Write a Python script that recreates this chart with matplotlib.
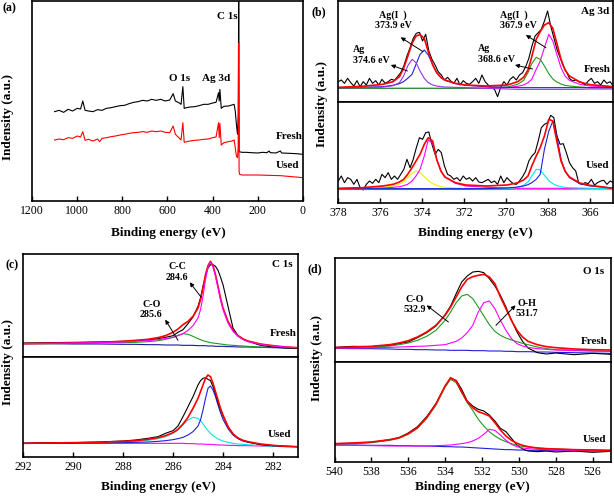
import numpy as np
import matplotlib
matplotlib.use('Agg')
import matplotlib.pyplot as plt

plt.rcParams['font.family'] = ['Liberation Serif', 'DejaVu Serif']

# ---------------- (a) survey ----------------
survey_fresh_ev = [1100, 1080, 1060, 1040, 1020, 1000, 985, 975, 965, 950,
                   930, 910, 890, 870, 850, 830, 810, 790, 770, 750,
                   730, 710, 690, 670, 650, 630, 610, 590, 575, 565,
                   550, 540, 532, 526, 515, 500, 480, 460, 440, 420,
                   400, 385, 374, 371, 368, 362, 350, 330, 315, 305,
                   300, 295, 290, 286.5, 284.6, 283, 270, 250, 230, 200,
                   180, 160, 150, 145, 120, 100, 95, 60, 30, 0]
survey_fresh = [268, 272, 266, 275, 270, 278, 276, 300, 272, 270,
                268, 274, 272, 278, 280, 283, 286, 287, 292, 296,
                298, 302, 300, 305, 302, 305, 300, 303, 322, 300,
                295, 290, 343, 278, 280, 282, 283, 286, 290, 290,
                294, 296, 325, 300, 335, 278, 284, 285, 288, 290,
                270, 230, 200, 260, 700, 148, 146, 146, 145, 144,
                146, 145, 150, 145, 144, 150, 144, 143, 142, 140]
survey_used_ev = [1100, 1080, 1060, 1040, 1020, 1000, 985, 975, 965, 950,
                  930, 910, 900, 890, 870, 850, 830, 810, 790, 770,
                  750, 730, 710, 690, 670, 650, 630, 610, 590, 575,
                  565, 550, 540, 532, 526, 515, 500, 480, 460, 440,
                  420, 400, 385, 374, 371, 368, 362, 350, 330, 315,
                  305, 300, 295, 290, 287, 285, 283, 281, 270, 200,
                  150, 100, 50, 0]
survey_used = [183, 186, 184, 190, 188, 195, 192, 208, 182, 185,
               180, 186, 178, 188, 190, 193, 195, 198, 200, 203,
               205, 206, 208, 206, 210, 208, 210, 206, 205, 225,
               200, 190, 183, 235, 176, 178, 180, 182, 183, 185,
               186, 190, 192, 235, 190, 233, 168, 175, 178, 180,
               183, 160, 135, 130, 160, 473, 90, 80, 78, 78,
               77, 76, 73, 70]

# ---------------- (b) Ag 3d ----------------
ag_ev = [377.99, 376.85, 375.87, 375.38, 375.08, 374.88, 374.69, 374.48, 374.29, 374.10,
         373.90, 373.71, 373.50, 373.31, 373.11, 372.92, 372.42, 371.93, 370.95, 369.95,
         369.46, 369.18, 368.97, 368.79, 368.58, 368.39, 368.19, 367.98, 367.79, 367.60,
         367.40, 367.21, 367.00, 366.51, 366.02, 364.93]
ag_fresh_env = [41, 44, 50, 58, 73, 98, 133, 173, 195, 199, 188, 148, 108, 85, 71, 63, 53, 48, 45, 48,
                58, 71, 93, 133, 185, 208, 228, 235, 218, 173, 125, 93, 75, 57, 49, 43]
ag_fresh_ag0_d3 = [40, 40, 42, 46, 55, 75, 105, 125, 115, 90, 68, 55, 48, 45, 43, 42, 41, 40, 38, 36,
                   35, 35, 35, 35, 35, 35, 35, 35, 35, 35, 35, 35, 35, 35, 36, 36]
ag_fresh_ag1_d3 = [40, 41, 43, 47, 52, 58, 68, 80, 110, 140, 153, 138, 110, 85, 70, 62, 52, 47, 43, 41,
                   40, 40, 40, 40, 40, 40, 40, 40, 40, 40, 40, 40, 40, 40, 40, 40]
ag_fresh_ag0_d5 = [38, 38, 38, 38, 38, 38, 38, 38, 38, 38, 38, 38, 38, 38, 38, 38, 38, 38, 39, 42,
                   50, 62, 85, 112, 131, 125, 105, 82, 66, 57, 51, 47, 45, 42, 40, 39]
ag_fresh_ag1_d5 = [38, 38, 38, 38, 38, 38, 38, 38, 38, 38, 38, 38, 38, 38, 38, 38, 38, 38, 38, 40,
                   44, 48, 55, 65, 95, 120, 160, 200, 180, 140, 100, 75, 62, 50, 45, 41]
ag_fresh_raw = [58, 63, 53, 68, 55, 45, 61, 43, 58, 48, 68, 53, 61, 48, 65, 53, 58, 65, 62, 73,
                85, 105, 135, 160, 188, 203, 206, 180, 200, 150, 125, 108, 88, 78, 63, 71, 60, 53, 68, 48,
                61, 53, 50, 58, 68, 53, 78, 58, 48, 40, 35, 13, 41, 58, 48, 65, 73, 63, 78, 85,
                103, 128, 165, 195, 205, 215, 240, 270, 225, 190, 155, 130, 105, 88, 68, 60, 63, 58, 55, 48,
                60, 68, 53, 58, 48, 63, 53, 58, 45]

ag_used_env = [43, 45, 50, 55, 62, 70, 85, 105, 125, 145, 175, 195, 185, 130, 95, 77, 60, 53, 50, 53,
               60, 68, 80, 110, 140, 165, 200, 250, 245, 185, 125, 95, 77, 59, 52, 43]
ag_used_ag0_d3 = [42, 43, 46, 50, 56, 63, 75, 88, 95, 90, 78, 66, 57, 52, 48, 46, 44, 43, 42, 42,
                  41, 41, 41, 41, 41, 41, 41, 41, 41, 41, 41, 41, 41, 40, 40, 40]
ag_used_ag1_d3 = [42, 42, 44, 46, 48, 51, 55, 65, 80, 100, 140, 188, 178, 130, 95, 77, 58, 50, 46, 44,
                  43, 43, 43, 43, 43, 43, 43, 43, 43, 43, 43, 42, 42, 42, 42, 42]
ag_used_ag0_d5 = [42, 42, 42, 42, 42, 42, 42, 42, 42, 42, 42, 42, 42, 42, 42, 42, 42, 42, 42, 42,
                  46, 52, 62, 80, 100, 98, 82, 66, 57, 51, 48, 46, 45, 44, 43, 42]
ag_used_ag1_d5 = [42, 42, 42, 42, 42, 42, 42, 42, 42, 42, 42, 42, 42, 42, 42, 42, 42, 42, 42, 44,
                  47, 50, 54, 60, 70, 85, 160, 215, 245, 200, 130, 95, 75, 57, 50, 44]
ag_used_base = [41] * 36
ag_used_raw = [65, 80, 60, 75, 70, 55, 70, 45, 38, 55, 65, 58, 70, 60, 85, 75, 90, 70, 80, 70,
               85, 100, 130, 105, 130, 165, 195, 190, 210, 212, 175, 145, 160, 150, 110, 85, 80, 70, 75, 65,
               80, 70, 75, 65, 75, 62, 60, 65, 70, 60, 65, 55, 80, 60, 75, 65, 57, 55, 65, 78,
               95, 125, 140, 150, 185, 225, 235, 240, 262, 255, 200, 175, 177, 150, 120, 105, 95, 58, 55, 60,
               57, 70, 53, 60, 65, 67, 55, 65, 60]

# ---------------- (c) C 1s ----------------
c_ev = [292.0, 291.0, 290.0, 289.0, 288.0, 287.5, 287.0, 286.6, 286.3, 286.0,
        285.8, 285.6, 285.4, 285.2, 285.0, 284.9, 284.8, 284.7, 284.6, 284.5,
        284.4, 284.3, 284.2, 284.1, 284.0, 283.8, 283.6, 283.4, 283.2, 283.0,
        282.5, 282.0, 281.5, 281.0]
c_fresh_raw = [40, 41, 42, 43, 45, 47, 49, 53, 57, 62, 72, 80, 98, 118, 150, 175, 210, 240, 265, 275,
               275, 270, 258, 238, 215, 150, 85, 62, 52, 45, 33, 28, 25, 24]
c_fresh_env = [38, 39, 40, 42, 45, 48, 51, 56, 62, 72, 82, 95, 105, 120, 145, 170, 205, 245, 272, 285,
               272, 245, 210, 175, 145, 105, 78, 62, 52, 46, 37, 32, 28, 26]
c_fresh_cc = [38, 39, 40, 41, 43, 45, 47, 50, 53, 57, 62, 68, 78, 92, 115, 140, 180, 230, 268, 283,
              268, 240, 205, 170, 140, 100, 75, 60, 50, 44, 36, 31, 28, 26]
c_fresh_co = [38, 38, 39, 40, 41, 42, 44, 47, 51, 57, 63, 68, 66, 60, 53, 50, 47, 45, 43, 41,
              40, 39, 38, 37, 36, 34, 33, 32, 31, 30, 28, 27, 26, 25]
c_fresh_base = [38, 38, 37, 37, 36, 36, 35, 35, 34, 34, 34, 33, 33, 33, 32, 32, 32, 32, 31, 31,
                31, 30, 30, 30, 30, 29, 29, 28, 28, 28, 27, 26, 25, 25]
c_used_raw = [40, 42, 42, 44, 47, 50, 55, 60, 70, 78, 92, 120, 150, 180, 215, 228, 235, 237, 232, 228,
              210, 188, 162, 140, 122, 90, 68, 55, 48, 44, 36, 33, 31, 30]
c_used_env = [40, 41, 42, 43, 46, 48, 52, 57, 63, 72, 82, 98, 118, 145, 175, 195, 215, 235, 245, 240,
              220, 195, 170, 145, 125, 90, 68, 56, 49, 45, 38, 34, 31, 30]
c_used_cc = [40, 40, 40, 41, 42, 43, 44, 46, 48, 51, 54, 58, 65, 75, 92, 110, 140, 175, 205, 212,
             200, 180, 155, 132, 112, 84, 65, 54, 47, 43, 37, 33, 31, 30]
c_used_co = [40, 40, 41, 42, 44, 46, 49, 54, 60, 70, 80, 95, 110, 118, 115, 108, 98, 88, 78, 70,
             63, 58, 53, 50, 47, 43, 40, 38, 37, 36, 33, 31, 30, 29]
c_used_base = [40, 40, 40, 40, 40, 40, 40, 40, 40, 40, 40, 40, 39, 39, 38, 38, 38, 37, 37, 37,
               36, 36, 35, 35, 35, 34, 34, 33, 33, 33, 32, 31, 31, 30]

# ---------------- (d) O 1s ----------------
o_ev = [540, 539, 538, 537, 536.5, 536, 535.5, 535, 534.5, 534,
        533.7, 533.4, 533.1, 532.8, 532.5, 532.2, 531.9, 531.6, 531.3, 531,
        530.7, 530.4, 530.1, 529.8, 529.5, 529, 528.5, 528, 527, 526, 525]
o_fresh_raw = [44, 47, 46, 50, 55, 60, 73, 88, 108, 142, 168, 205, 240, 258, 270, 272, 268, 250, 228, 200,
               165, 125, 90, 62, 42, 28, 24, 27, 22, 26, 23]
o_fresh_env = [43, 45, 47, 52, 57, 64, 75, 90, 110, 140, 165, 195, 225, 248, 256, 260, 263, 255, 235, 195,
               160, 125, 95, 75, 62, 52, 46, 43, 39, 37, 36]
o_fresh_co = [42, 43, 45, 48, 52, 57, 65, 77, 95, 125, 150, 178, 198, 203, 190, 165, 138, 112, 92, 80,
              72, 66, 61, 56, 52, 45, 40, 37, 35, 33, 32]
o_fresh_oh = [42, 42, 43, 44, 45, 46, 47, 48, 50, 52, 57, 62, 72, 88, 110, 150, 178, 183, 160, 125,
              95, 70, 55, 48, 44, 40, 38, 36, 34, 33, 32]
o_fresh_base = [41, 40, 40, 39, 38, 38, 37, 37, 36, 36, 35, 35, 35, 35, 34, 34, 34, 33, 33, 33,
                32, 32, 31, 31, 31, 30, 30, 29, 28, 27, 26]
o_used_raw = [52, 53, 56, 64, 70, 84, 103, 133, 172, 225, 248, 242, 215, 180, 165, 155, 150, 138, 120, 98,
              88, 68, 48, 36, 30, 28, 30, 27, 30, 26, 29]
o_used_env = [52, 54, 57, 64, 70, 82, 100, 130, 170, 225, 250, 240, 207, 178, 160, 148, 142, 135, 115, 93,
              75, 62, 53, 47, 43, 39, 37, 36, 34, 33, 32]
o_used_co = [50, 52, 55, 62, 68, 80, 98, 128, 168, 222, 245, 235, 205, 175, 152, 125, 105, 88, 75, 65,
             58, 52, 47, 44, 42, 39, 37, 36, 34, 33, 32]
o_used_oh = [48, 47, 46, 45, 45, 45, 45, 45, 46, 47, 48, 50, 52, 55, 60, 68, 80, 95, 92, 78,
             62, 50, 43, 39, 37, 35, 34, 33, 32, 31, 30]
o_used_base = [48, 48, 47, 47, 46, 46, 45, 45, 44, 43, 43, 42, 42, 41, 40, 39, 38, 37, 36, 35,
               34, 34, 33, 33, 32, 32, 31, 31, 30, 30, 30]

W, H = 614, 497
RED, GREEN, MAG, BLUE = '#ff0000', '#1f9a1f', '#ff00ff', '#1f1fe0'
PURPLE, CYAN, YELLOW = '#9a30e8', '#00e8e8', '#f0f000'


def box(x0, y0, x1, y1):
    return [x0 / W, 1 - y1 / H, (x1 - x0) / W, (y1 - y0) / H]


def style(ax, xlim, ylim, ticks=None):
    ax.set_xlim(*xlim)
    ax.set_ylim(*ylim)
    ax.set_yticks([])
    for s in ax.spines.values():
        s.set_linewidth(1.2)
    if ticks is None:
        ax.set_xticks([])
    else:
        ax.set_xticks(ticks)
        ax.tick_params(axis='x', direction='in', length=3.5, width=1,
                       labelsize=8.5, pad=3)


def note(ax, x, y, s, ha='center', size=7.2):
    ax.text(x, y, s, ha=ha, va='center', fontsize=size, fontweight='bold',
            linespacing=1.15, multialignment='left' if ha == 'left' else 'center')


def arrow(ax, head, tail):
    ax.annotate('', xy=head, xytext=tail,
                arrowprops=dict(arrowstyle='-|>', color='k', lw=0.7,
                                mutation_scale=6, shrinkA=0, shrinkB=0))


fig = plt.figure(figsize=(W / 100, H / 100), dpi=100)
lw = 0.8

# (a)
ax = fig.add_axes(box(32, 1, 303, 201))
ax.plot(survey_fresh_ev, survey_fresh, color='k', lw=lw)
ax.plot(survey_used_ev, survey_used, color=RED, lw=lw)
style(ax, (1200, 0), (0, 600), ticks=range(0, 1201, 200))
note(ax, 336, 553, 'C 1s', size=8)
note(ax, 545, 368, 'O 1s', size=8)
note(ax, 385, 368, 'Ag 3d', size=8)
note(ax, 62, 193, 'Fresh', size=8)
note(ax, 69, 106, 'Used', size=8)

# (b)
ax = fig.add_axes(box(338, 1, 613, 102))
ax.plot(np.linspace(377.99, 364.92, len(ag_fresh_raw)), ag_fresh_raw, color='k', lw=lw)
ax.plot(ag_ev, ag_fresh_ag1_d5, color=MAG, lw=lw)
ax.plot(ag_ev, ag_fresh_ag0_d5, color=GREEN, lw=lw)
ax.plot(ag_ev, ag_fresh_ag1_d3, color=BLUE, lw=lw)
ax.plot(ag_ev, ag_fresh_ag0_d3, color=PURPLE, lw=lw)
ax.plot(ag_ev, ag_fresh_env, color=RED, lw=1.2)
style(ax, (378.0, 364.93), (-3, 300))
note(ax, 375.38, 241, 'Ag(I  )\n373.9 eV')
note(ax, 377.28, 138, 'Ag\n374.6 eV', ha='left')
note(ax, 370.28, 241, 'Ag(I  )\n367.9 eV', ha='left')
note(ax, 371.36, 141, 'Ag\n368.6 eV', ha='left')
arrow(ax, (375.02, 191), (373.96, 148))
arrow(ax, (375.49, 108), (374.70, 90))
arrow(ax, (369.07, 198), (368.12, 160))
arrow(ax, (369.59, 108), (368.75, 96))
note(ax, 365.12, 268, 'Ag 3d', ha='right', size=8)
note(ax, 365.04, 93, 'Fresh', ha='right', size=8)

ax = fig.add_axes(box(338, 102, 613, 203))
ax.plot(np.linspace(377.99, 364.92, len(ag_used_raw)), ag_used_raw, color='k', lw=lw)
ax.plot(ag_ev, ag_used_base, color=GREEN, lw=lw)
ax.plot(ag_ev, ag_used_ag0_d3, color=YELLOW, lw=lw)
ax.plot(ag_ev, ag_used_ag1_d3, color=MAG, lw=lw)
ax.plot(ag_ev, ag_used_ag0_d5, color=CYAN, lw=lw)
ax.plot(ag_ev, ag_used_ag1_d5, color=BLUE, lw=lw)
ax.plot(ag_ev, ag_used_env, color=RED, lw=1.2)
style(ax, (378.0, 364.93), (-1, 302), ticks=range(366, 379, 2))
note(ax, 365.12, 110, 'Used', ha='right', size=8)

# (c)
ax = fig.add_axes(box(23, 254, 298, 357))
ax.plot(c_ev, c_fresh_base, color='#1a1aa0', lw=lw)
ax.plot(c_ev, c_fresh_co, color=GREEN, lw=lw)
ax.plot(c_ev, c_fresh_raw, color='k', lw=lw)
ax.plot(c_ev, c_fresh_env, color=RED, lw=1.2)
ax.plot(c_ev, c_fresh_cc, color=MAG, lw=lw)
style(ax, (292.0, 281.0), (-2, 307))
note(ax, 285.84, 253, 'C-C\n284.6')
note(ax, 286.87, 141, 'C-O\n285.6')
arrow(ax, (285.33, 222), (284.87, 177))
arrow(ax, (286.31, 110), (285.80, 48))
note(ax, 281.2, 275, 'C 1s', ha='right', size=8)
note(ax, 281.07, 70, 'Fresh', ha='right', size=8)

ax = fig.add_axes(box(23, 357, 298, 457))
ax.plot(c_ev, c_used_base, color=MAG, lw=lw)
ax.plot(c_ev, c_used_co, color=CYAN, lw=lw)
ax.plot(c_ev, c_used_cc, color=BLUE, lw=lw)
ax.plot(c_ev, c_used_raw, color='k', lw=lw)
ax.plot(c_ev, c_used_env, color=RED, lw=1.2)
style(ax, (292.0, 281.0), (-1, 299), ticks=range(282, 293, 2))
note(ax, 281.27, 67, 'Used', ha='right', size=8)

# (d)
ax = fig.add_axes(box(334.5, 258, 611, 362))
ax.plot(o_ev, o_fresh_base, color=BLUE, lw=lw)
ax.plot(o_ev, o_fresh_raw, color='k', lw=lw)
ax.plot(o_ev, o_fresh_co, color=GREEN, lw=lw)
ax.plot(o_ev, o_fresh_oh, color=MAG, lw=lw)
ax.plot(o_ev, o_fresh_env, color=RED, lw=1.2)
style(ax, (540, 525), (0, 312))
note(ax, 535.64, 173, 'C-O\n532.9')
note(ax, 529.55, 161, 'O-H\n531.7')
arrow(ax, (535.0, 170), (533.82, 120))
arrow(ax, (530.18, 170), (531.24, 110))
note(ax, 525.36, 270, 'O 1s', ha='right', size=8)
note(ax, 525.18, 63, 'Fresh', ha='right', size=8)

ax = fig.add_axes(box(334.5, 362, 611, 462))
ax.plot(o_ev, o_used_base, color=BLUE, lw=lw)
ax.plot(o_ev, o_used_raw, color='k', lw=lw)
ax.plot(o_ev, o_used_co, color=GREEN, lw=lw)
ax.plot(o_ev, o_used_oh, color=MAG, lw=lw)
ax.plot(o_ev, o_used_env, color=RED, lw=1.2)
style(ax, (540, 525), (-3, 297), ticks=range(526, 541, 2))
note(ax, 525.27, 63, 'Used', ha='right', size=8)

# panel letters and axis titles
for x, y, s in [(3, 8, '(a)'), (312, 12, '(b)'), (5, 265, '(c)'), (307, 269, '(d)')]:
    fig.text(x / W, 1 - y / H, s, ha='left', va='center', fontsize=8.5, fontweight='bold')
for x, y in [(168, 233), (475, 233), (158, 487), (472, 487)]:
    fig.text(x / W, 1 - y / H, 'Binding energy (eV)', ha='center', va='center',
             fontsize=9.5, fontweight='bold')
for x, y in [(8, 117), (322, 104), (8, 362), (317, 358)]:
    fig.text(x / W, 1 - y / H, 'Indensity (a.u.)', ha='center', va='center',
             rotation=90, fontsize=9.5, fontweight='bold')

fig.savefig('out.png', dpi=100)
